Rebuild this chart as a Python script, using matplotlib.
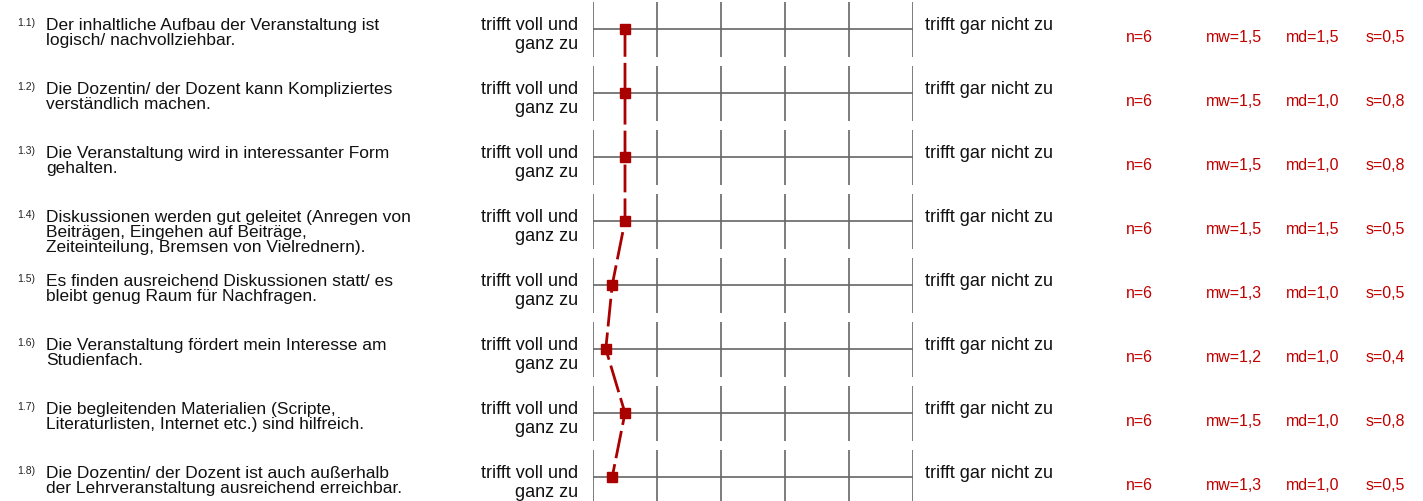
import matplotlib
matplotlib.use('Agg')
import matplotlib.pyplot as plt
from matplotlib.transforms import blended_transform_factory

plt.rcParams['font.family'] = ['Liberation Sans', 'DejaVu Sans']

# data
numbers = ['1.1)', '1.2)', '1.3)', '1.4)', '1.5)', '1.6)', '1.7)', '1.8)']
questions = [
    'Der inhaltliche Aufbau der Veranstaltung ist\nlogisch/ nachvollziehbar.',
    'Die Dozentin/ der Dozent kann Kompliziertes\nverständlich machen.',
    'Die Veranstaltung wird in interessanter Form\ngehalten.',
    'Diskussionen werden gut geleitet (Anregen von\nBeiträgen, Eingehen auf Beiträge,\nZeiteinteilung, Bremsen von Vielrednern).',
    'Es finden ausreichend Diskussionen statt/ es\nbleibt genug Raum für Nachfragen.',
    'Die Veranstaltung fördert mein Interesse am\nStudienfach.',
    'Die begleitenden Materialien (Scripte,\nLiteraturlisten, Internet etc.) sind hilfreich.',
    'Die Dozentin/ der Dozent ist auch außerhalb\nder Lehrveranstaltung ausreichend erreichbar.',
]
left_label = 'trifft voll und\nganz zu'
right_label = 'trifft gar nicht zu'
scale = [1, 2, 3, 4, 5, 6]
n_values = [6, 6, 6, 6, 6, 6, 6, 6]
mw_values = [1.5, 1.5, 1.5, 1.5, 1.3, 1.2, 1.5, 1.3]
md_values = [1.5, 1.0, 1.0, 1.5, 1.0, 1.0, 1.0, 1.0]
s_values = [0.5, 0.8, 0.8, 0.5, 0.5, 0.4, 0.8, 0.5]

W, H = 1423, 501
red = '#aa0000'
stat_red = '#c00000'
grey = '#666666'

fig = plt.figure(figsize=(W / 100, H / 100), dpi=100)
ax = fig.add_axes([593 / W, 0, 320 / W, 1])
ax.set_xlim(1, 6)
ax.set_ylim((H - 29) / 64, -29 / 64)
ax.axis('off')

rows = list(range(len(questions)))
trans = blended_transform_factory(fig.transFigure, ax.transData)


def fx(px):
    return px / W


def comma(v):
    return ('%.1f' % v).replace('.', ',')


for i in rows:
    ax.hlines(i, scale[0], scale[-1], color=grey, lw=1.2)
    ax.vlines(scale, i - 27 / 64, i + 28 / 64, color=grey, lw=1.2)

    ax.text(fx(17), i - 3 / 64, numbers[i], transform=trans, fontsize=7.5,
            ha='left', va='baseline', color='#222222')
    ax.text(fx(46), i - 11 / 64, questions[i], transform=trans, fontsize=12.5,
            ha='left', va='top', linespacing=1.0, color='#111111')
    ax.text(fx(578), i - 12 / 64, left_label, transform=trans, fontsize=13,
            ha='right', va='top', multialignment='right', linespacing=1.17,
            color='#111111')
    ax.text(fx(925), i + 1 / 64, right_label, transform=trans, fontsize=13,
            ha='left', va='baseline', color='#111111')

    stats = ['n=%d' % n_values[i], 'mw=' + comma(mw_values[i]),
             'md=' + comma(md_values[i]), 's=' + comma(s_values[i])]
    for sx, st in zip([1126, 1206, 1286, 1366], stats):
        ax.text(fx(sx), i + 13 / 64, st, transform=trans, fontsize=11.5,
                ha='left', va='baseline', color=stat_red)

# profile line
ax.plot(mw_values, rows, color=red, lw=2, dashes=(10, 2.2), clip_on=False, zorder=3)
ax.plot(mw_values, rows, linestyle='none', marker='s', markersize=7,
        color=red, clip_on=False, zorder=4)

fig.savefig('out.png', dpi=100)
